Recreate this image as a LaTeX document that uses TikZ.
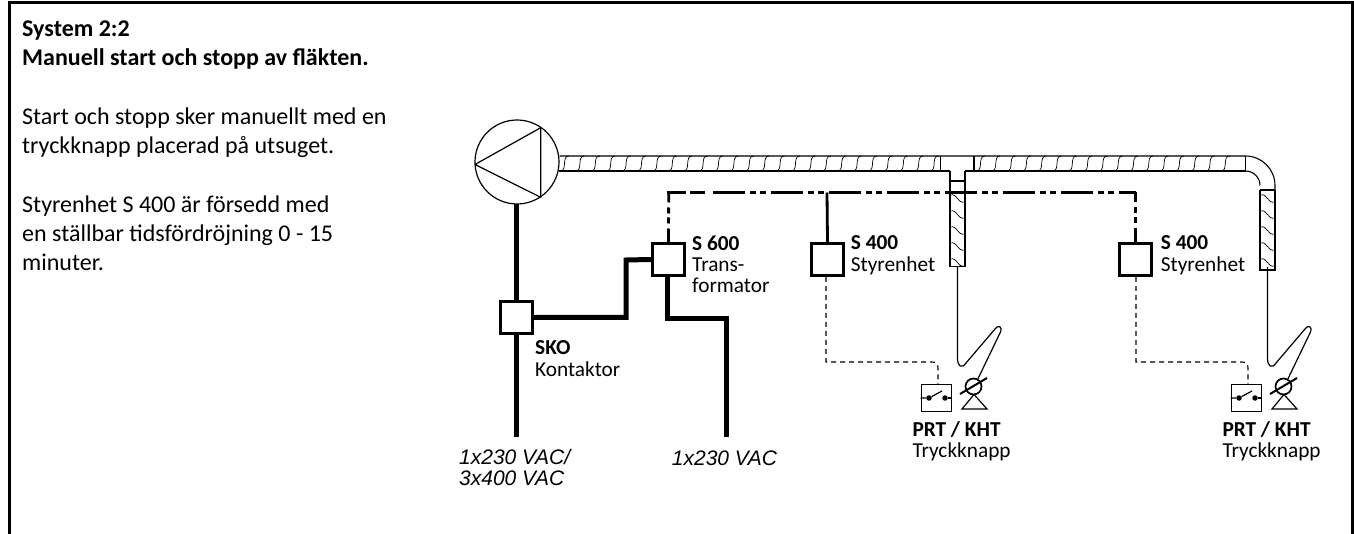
\documentclass[tikz,border=0pt]{standalone}
\usepackage{fontspec}
\setmainfont{Carlito}
\newfontfamily\lsans{Liberation Sans}
\begin{document}
\begin{tikzpicture}[x=1pt,y=-1pt,
  body/.style={inner sep=0pt,anchor=base west,font=\fontsize{24}{29}\selectfont},
  lab/.style={inner sep=0pt,anchor=base west,font=\fontsize{21.3}{21.5}\selectfont},
  vac/.style={inner sep=0pt,anchor=base west,font=\fontsize{21}{21.5}\selectfont\lsans\itshape},
  unit/.style={draw,line width=3pt,minimum width=32pt,minimum height=32pt,inner sep=0pt,fill=white},
  power/.style={line width=5pt},
  ctrl/.style={line width=2.8pt,dash pattern=on 32pt off 5pt on 6pt off 4pt on 6pt off 5pt},
  ctrlv/.style={line width=2.8pt,dash pattern=on 10pt off 5pt on 6pt off 4pt on 6pt off 5pt on 30pt},
  bus/.style={line width=2.8pt},
  duct/.style={line width=1.1pt},
  stem/.style={line width=1.5pt},
  wave/.style={line width=0.7pt},
  thin/.style={line width=1.2pt,line join=round},
  sense/.style={line width=1.1pt,dash pattern=on 5pt off 4pt},
  swbox/.style={draw,line width=1.8pt,minimum width=30pt,minimum height=27pt,inner sep=0pt},
  dotn/.style={circle,fill,inner sep=0pt,minimum size=5.5pt}
]
\useasboundingbox (0,0) rectangle (1354,534);
% frame
\draw[line width=3pt] (9,534) -- (9,2.5) -- (1352.5,2.5) -- (1352.5,534);
% text
\node[body] (t1) at (22,36.7) {\textbf{System 2:2}};
\node[body] (t2) at (22,65.7) {\textbf{Manuell start och stopp av fläkten.}};
\node[body] (t3) at (22,125) {Start och stopp sker manuellt med en};
\node[body] (t4) at (22,154) {tryckknapp placerad på utsuget.};
\node[body] (t5) at (22,212.7) {Styrenhet S 400 är försedd med};
\node[body] (t6) at (22,241.7) {en ställbar tidsfördröjning 0 - 15};
\node[body] (t7) at (22,270.7) {minuter.};
% fan
\node[draw,circle,line width=1.2pt,minimum size=84pt,inner sep=0pt] (fan) at (517,162) {};
\draw[line width=1.2pt,line join=round] (475,164.5) -- (540.7,127.7) -- (540.7,197.3) -- cycle;
% duct outline
\draw[duct] (fan.east |- 0,156) -- (1245.5,156) arc[start angle=-90,end angle=0,radius=29.5] -- (1275,190);
\draw[duct] (1245.5,171) arc[start angle=-90,end angle=0,radius=14.5];
\draw[duct] (559,171) -- (950,171);
\draw[duct] (965,171) -- (1245.5,171);
\draw[duct] (940.7,156) -- (940.7,171);
\draw[duct] (974,156) -- (974,171);
\draw[stem] (950,171) -- (950,266.7) -- (965,266.7) -- (965,171);
\draw[stem] (1260,190) -- (1260,270) -- (1275,270) -- (1275,190);
\draw[duct] (950,181) -- (965,181);
\draw[duct] (1245.5,156) -- (1245.5,171);
\draw[duct] (1260,190) -- (1275,190);
% duct windings
\foreach \x in {560,575.4,...,930}
  \draw[wave] (\x,171) .. controls (\x+8,171) and (\x+1,156) .. (\x+9,156);
\foreach \x in {976,991.3,...,1236}
  \draw[wave] (\x,171) .. controls (\x+8,171) and (\x+1,156) .. (\x+9,156);
\foreach \y in {195,211,...,260}{
  \draw[wave] (950,\y) .. controls (958,\y-2) and (957,\y+9) .. (965,\y+7);
  \draw[wave] (1260,\y) .. controls (1268,\y-2) and (1267,\y+9) .. (1275,\y+7);
}
% boxes
\node[unit] (sko) at (516,317.5) {};
\node[unit] (s600) at (668.5,259.5) {};
\node[unit] (s4a) at (827.5,259.5) {};
\node[unit] (s4b) at (1135.5,260) {};
% power
\coordinate (in1) at (516.7,437);
\coordinate (in2) at (726,437);
\draw[power] (516.7,204) -- (516.7,301);
\draw[power] (516.7,334) -- (in1);
\draw[power,line join=miter] (sko.east) -- (626,317.5) -- (626,260) -- (s600.west);
\draw[power,line join=miter] (667.5,276) -- (667.5,319) -- (726,319) -- (in2);
% control bus
\coordinate (bc1) at (668.7,192.5);
\coordinate (bc2) at (1135.5,192.5);
\draw[bus,line cap=rect] (bc1) -- (685,192.5);
\draw[bus] (690,192.5) -- (705,192.5);
\draw[ctrl] (713,192.5) -- (bc2);
\draw[ctrlv] (bc1) -- (s600.north);
\draw[ctrlv] (bc2) -- (s4b.north);
\draw[bus] (827,192.5) -- (s4a.north);
% labels
\node[lab] (l600) at (692,250.7) {\textbf{S 600}};
\node[lab] (l600b) at (692,271.7) {Trans-};
\node[lab] (l600c) at (692,293) {formator};
\node[lab] (lsko) at (535,355) {\textbf{SKO}};
\node[lab] (lskob) at (535,376.7) {Kontaktor};
\node[lab] (l4a) at (850.7,250) {\textbf{S 400}};
\node[lab] (l4ab) at (850.7,271.7) {Styrenhet};
\node[lab] (l4b) at (1160.7,250) {\textbf{S 400}};
\node[lab] (l4bb) at (1160.7,271.7) {Styrenhet};
\node[lab] (p1) at (912.3,436) {\textbf{PRT / KHT}};
\node[lab] (p1b) at (912.3,457) {Tryckknapp};
\node[lab] (p2) at (1222.3,436) {\textbf{PRT / KHT}};
\node[lab] (p2b) at (1222.3,457) {Tryckknapp};
\node[vac] (v1) at (459,464) {1x230 VAC/};
\node[vac] (v2) at (459,485.7) {3x400 VAC};
\node[vac] (v3) at (671.7,465) {1x230 VAC};
% push buttons
\foreach \dx/\nm in {0/a,310/b}{
  \begin{scope}[xshift=\dx pt]
    \node[swbox] (sw\nm) at (936.5,398) {};
    \node[dotn] (da\nm) at (929,398) {};
    \node[dotn] (db\nm) at (945,398) {};
    \draw[line width=1.2pt] (sw\nm.west) -- (da\nm) -- (942,391);
    \draw[line width=1.2pt] (db\nm) -- (sw\nm.east);
    \node[draw,circle,line width=1.7pt,minimum size=16pt,inner sep=0pt] (pc\nm) at (973.5,386.5) {};
    \draw[line width=2pt] (960,394) -- (987,378);
    \draw[line width=1.2pt,line join=miter] (974,394.5) -- (987,409) -- (962,409) -- cycle;
    \draw[thin] (957.5,267) -- (957.5,358) .. controls (957.5,367) and (962,369) .. (966,363) -- (995,329) .. controls (999,324) and (1003,327) .. (1000,333) -- (pc\nm.60);
    \draw[sense] (826,277) -- (826,362) -- (932,362) .. controls (936,362) and (938,364) .. (938,368) -- (938,384);
  \end{scope}
}
\end{tikzpicture}
\end{document}
